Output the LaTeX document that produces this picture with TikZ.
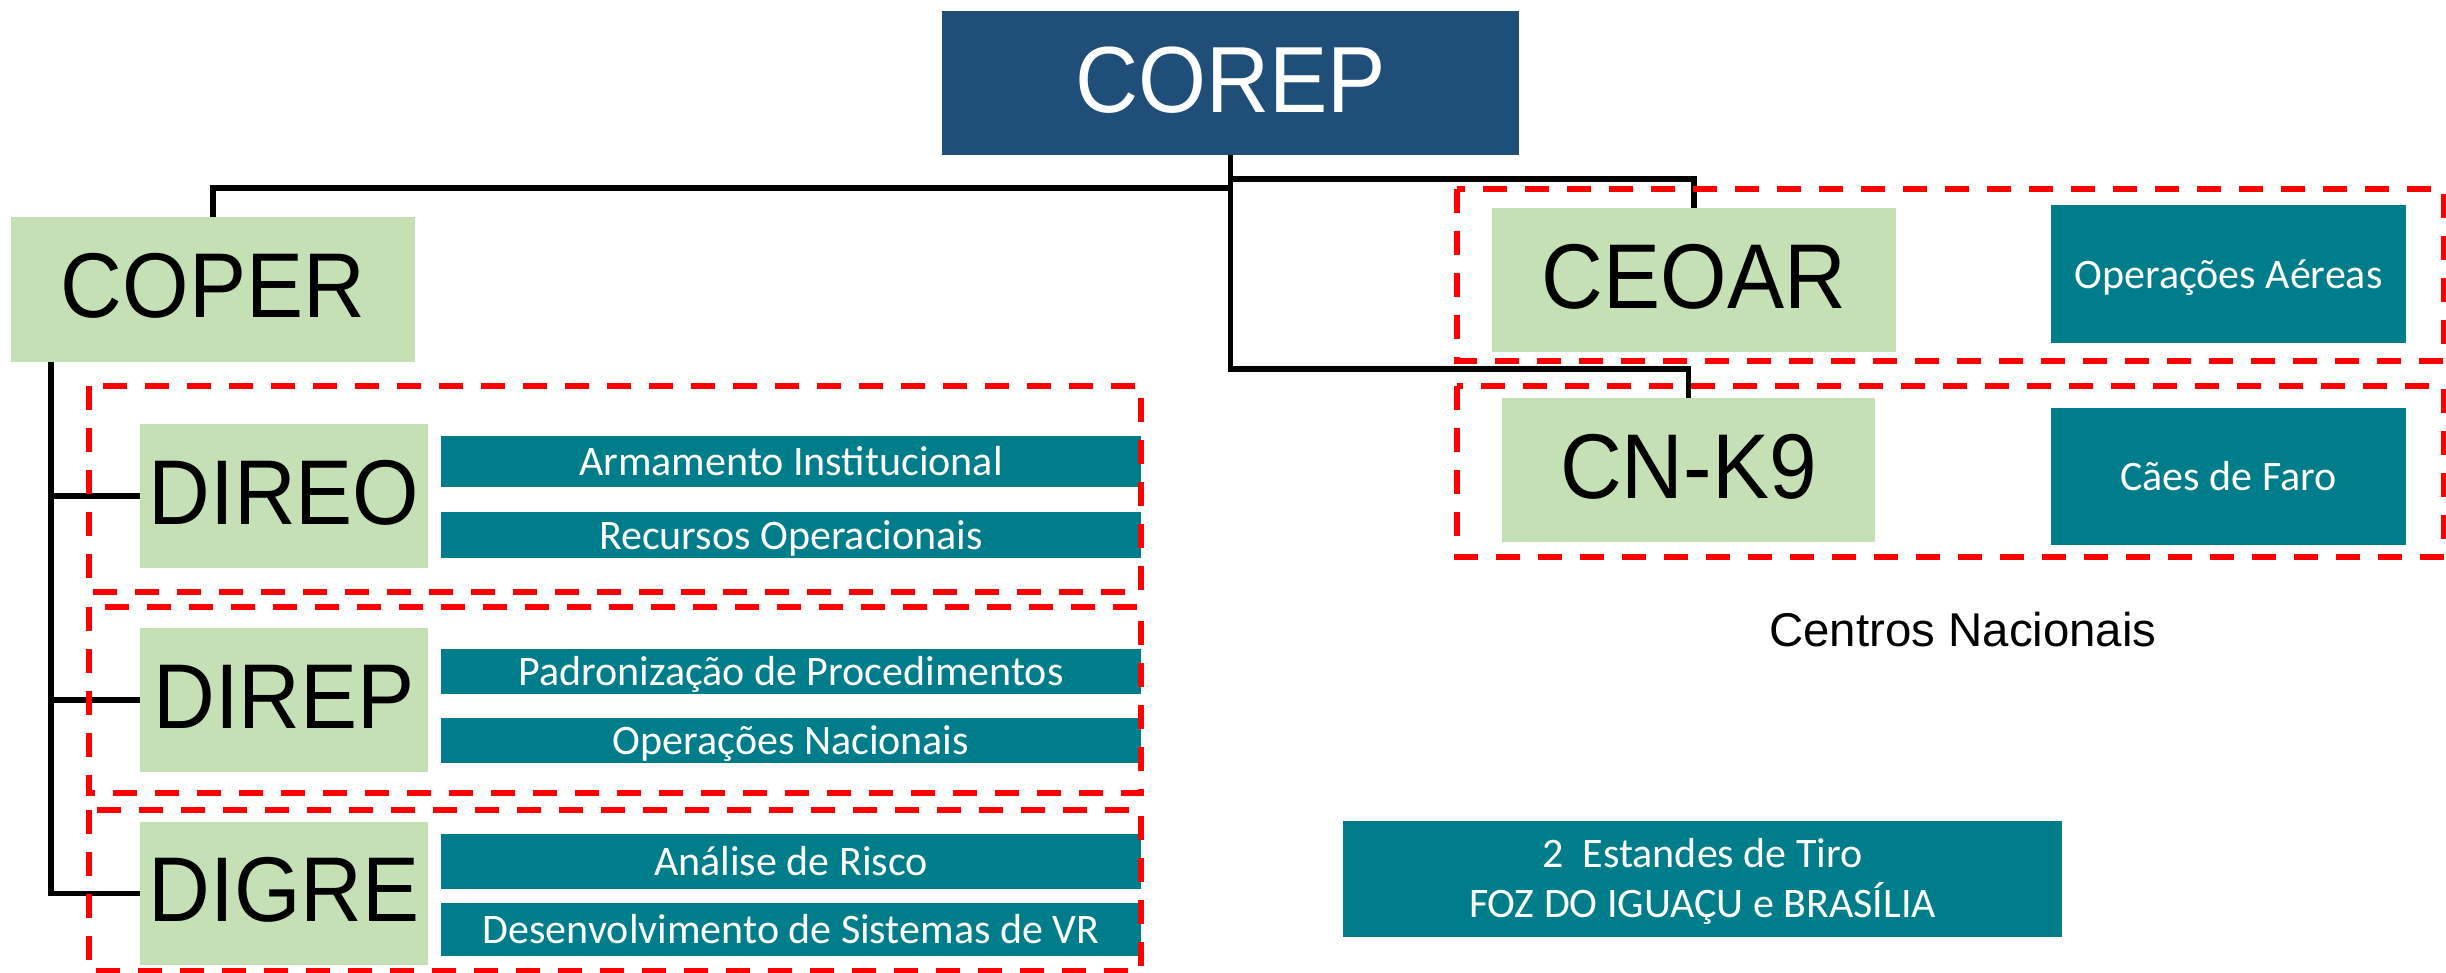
\documentclass[tikz,border=0pt]{standalone}
\usepackage{fontspec}
\setmainfont{Liberation Sans}
\newfontfamily\headfont[FakeStretch=0.93]{Liberation Sans}
\newfontfamily\taskfont{Carlito}
\usetikzlibrary{positioning}
\definecolor{corepblue}{RGB}{31,78,121}
\definecolor{orggreen}{RGB}{197,224,180}
\definecolor{taskteal}{RGB}{0,125,138}
\tikzset{
  every node/.style={inner sep=0pt, outer sep=0pt},
  headbox/.style={fill=corepblue, text=white, font=\headfont\fontsize{47}{50}\selectfont,
    text height=33.6pt, text depth=4.5pt},
  orgbox/.style={fill=orggreen, font=\headfont\fontsize{46}{50}\selectfont, minimum height=72pt,
    text height=33pt, text depth=5pt},
  taskbox/.style={fill=taskteal, text=white, font=\taskfont\fontsize{21}{25}\selectfont,
    text height=18pt, text depth=4pt},
  link/.style={draw=black, line width=2.7pt},
  group/.style={draw=red, line width=3pt, dash pattern=on 12pt off 9pt}
  }

\begin{document}
\begin{tikzpicture}[x=0.5pt, y=-0.5pt]

    \useasboundingbox (0,0) rectangle (2446,973);

    \node [headbox, minimum width=288.5pt, minimum height=72pt] at (1230.5,83) (corep) {COREP};

    % left branch
    \node [orgbox, minimum width=202pt, minimum height=72.5pt] at (213,289.5) (coper) {COPER};
    \node [orgbox, minimum width=144pt] at (284,496) (direo) {DIREO};
    \node [orgbox, minimum width=144pt] at (284,700) (direp) {DIREP};
    \node [orgbox, minimum width=144pt, minimum height=71.5pt] at (284,893.5) (digre) {DIGRE};

    \node [taskbox, minimum width=350pt, minimum height=25.5pt] at (791,461.5) (arm) {Armamento Institucional};
    \node [taskbox, minimum width=350pt, minimum height=23pt] at (791,535) (rec) {Recursos Operacionais};
    \node [taskbox, minimum width=350pt, minimum height=22.5pt] at (791,671.5) (pad) {Padronização de Procedimentos};
    \node [taskbox, minimum width=350pt, minimum height=22.5pt] at (791,740.5) (opn) {Operações Nacionais};
    \node [taskbox, minimum width=350pt, minimum height=27.5pt] at (791,861.5) (ana) {Análise de Risco};
    \node [taskbox, minimum width=350pt, minimum height=26.5pt] at (791,929.5) (des) {Desenvolvimento de Sistemas de VR};

    % right branch
    \node [orgbox, minimum width=202pt] at (1694,280) (ceoar) {CEOAR};
    \node [orgbox, minimum width=186.5pt] at (1688.5,470) (cnk9) {CN-K9};
    \node [taskbox, minimum width=177.5pt, minimum height=69pt] at (2228.5,274) (opa) {Operações Aéreas};
    \node [taskbox, minimum width=177.5pt, minimum height=68.5pt] at (2228.5,476.5) (caes) {Cães de Faro};

    \node [font=\fontsize{23.7}{26}\selectfont] at (1963,630) (centros) {Centros Nacionais};

    % two lines: plain text height here
    \node [taskbox, text height=, text depth=, align=center, minimum width=359.5pt, minimum height=58pt] at (1702.5,879) (tiro)
      {\rule{0pt}{17pt}2~ Estandes de Tiro\\FOZ DO IGUAÇU e BRASÍLIA};

    % connectors from COREP
    \draw [link] (corep.south) -- ++(0,33) -| (coper.north);
    \draw [link] (corep.south) -- ++(0,24) -| (ceoar.north);
    \draw [link] (corep.south) -- ++(0,214) -| (cnk9.north);

    % COPER down to its directorates
    \coordinate (stem) at (51,362);
    \foreach \d in {direo,direp,digre}
      \draw [link] (stem) |- (\d.west);

    % dashed groups
    \draw [group] (89,386) rectangle (1141,592);
    \draw [group] (89,607) rectangle (1141,793);
    \draw [group] (89,810) rectangle (1141,971);
    \draw [group] (1457,189) rectangle (2444,361);
    \draw [group] (1457,386) rectangle (2444,557);

\end{tikzpicture}
\end{document}
